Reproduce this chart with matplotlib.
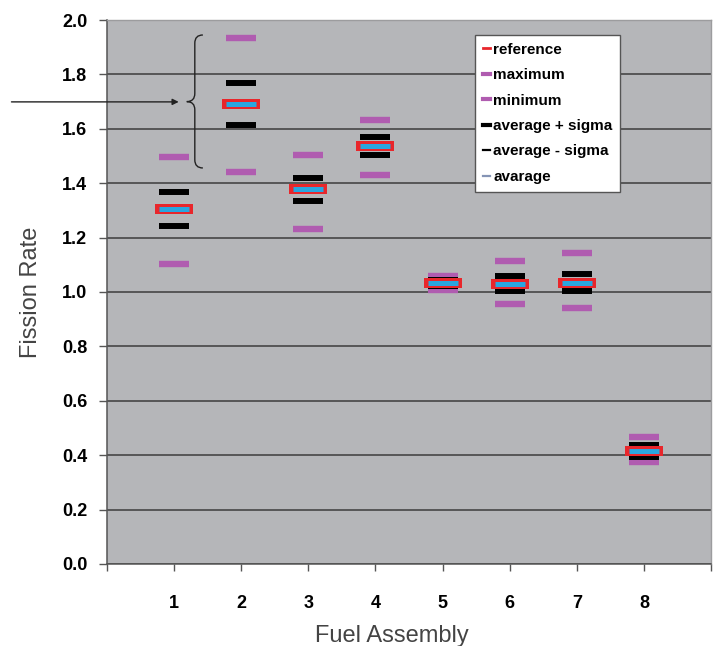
import matplotlib
matplotlib.use("Agg")
import matplotlib.pyplot as plt
import numpy as np
from matplotlib.lines import Line2D
from matplotlib.path import Path
from matplotlib.patches import PathPatch

plt.rcParams['font.family'] = ['Liberation Sans Narrow', 'Liberation Sans', 'DejaVu Sans']

assemblies = [1, 2, 3, 4, 5, 6, 7, 8]
reference = [1.305, 1.691, 1.378, 1.537, 1.033, 1.031, 1.034, 0.417]
maximum = [1.497, 1.933, 1.503, 1.632, 1.059, 1.114, 1.143, 0.467]
minimum = [1.102, 1.440, 1.233, 1.430, 1.007, 0.956, 0.941, 0.374]
avg_plus_sigma = [1.368, 1.768, 1.419, 1.569, 1.044, 1.059, 1.066, 0.436]
avg_minus_sigma = [1.244, 1.614, 1.333, 1.505, 1.022, 1.005, 1.003, 0.394]
average = [1.305, 1.691, 1.378, 1.537, 1.033, 1.031, 1.034, 0.417]

legend_labels = ["reference", "maximum", "minimum", "average + sigma", "average - sigma", "avarage"]

RED = "#e8262b"
PURPLE = "#b05cb0"
BLUE = "#2aa6df"
GRAY_BG = "#b5b6b9"

fig = plt.figure(figsize=(7.17, 6.46), dpi=100)
ax = fig.add_axes([0.149, 0.127, 0.843, 0.842])
ax.set_facecolor(GRAY_BG)

ax.set_xlim(0, 9)
ax.set_ylim(0, 2.0)
ax.set_yticks(np.arange(0, 2.01, 0.2))
ax.set_yticklabels([f"{v:.1f}" for v in np.arange(0, 2.01, 0.2)])
ax.set_xticks(range(0, 10))
ax.set_xticklabels([""] + [str(a) for a in assemblies] + [""])
ax.tick_params(axis='y', length=6, width=1, color="#555555", pad=8, labelsize=13)
ax.tick_params(axis='x', length=5, width=1, color="#555555", pad=17, labelsize=13)
for lab in ax.get_xticklabels() + ax.get_yticklabels():
    lab.set_fontweight('bold')

ax.grid(axis='y', color="#3c3c3c", linewidth=1.1)
ax.set_axisbelow(True)
for side in ['left', 'bottom']:
    ax.spines[side].set_color("#555555")
    ax.spines[side].set_linewidth(1.1)
for side in ['top', 'right']:
    ax.spines[side].set_color("#9c9c9e")
    ax.spines[side].set_linewidth(1.0)

# bars for each statistic, drawn as wide horizontal dash markers
ax.plot(assemblies, maximum, ls='none', marker='_', ms=21.5, mew=4.6, color=PURPLE, zorder=3)
ax.plot(assemblies, minimum, ls='none', marker='_', ms=21.5, mew=4.6, color=PURPLE, zorder=3)
ax.plot(assemblies, avg_plus_sigma, ls='none', marker='_', ms=21, mew=4.3, color='black', zorder=4)
ax.plot(assemblies, avg_minus_sigma, ls='none', marker='_', ms=21, mew=4.3, color='black', zorder=4)
ax.plot(assemblies, reference, ls='none', marker='_', ms=27.5, mew=7.2, color=RED, zorder=5)
ax.plot(assemblies, average, ls='none', marker='_', ms=21.5, mew=3.6, color=BLUE, zorder=6)

ax.set_ylabel("Fission Rate", fontsize=17, color="#444444")
ax.yaxis.set_label_coords(-0.108, 0.5)
ax.set_xlabel("Fuel Assembly", fontsize=17, color="#444444")
ax.xaxis.set_label_coords(0.472, -0.112)

# curly brace around the spread of assembly 2
bx, btop, bmid, bbot = 1.31, 1.945, 1.70, 1.456
w, r = 0.12, 0.03
verts = [
    (bx + w, btop), (bx, btop), (bx, btop - r),
    (bx, bmid + r),
    (bx, bmid), (bx - w, bmid),
    (bx, bmid), (bx, bmid - r),
    (bx, bbot + r),
    (bx, bbot), (bx + w, bbot),
]
codes = [Path.MOVETO, Path.CURVE3, Path.CURVE3, Path.LINETO,
         Path.CURVE3, Path.CURVE3, Path.CURVE3, Path.CURVE3,
         Path.LINETO, Path.CURVE3, Path.CURVE3]
ax.add_patch(PathPatch(Path(verts, codes), fill=False, edgecolor="#222222", lw=1.0, zorder=7))

ax.annotate("", xy=(1.07, 1.699), xytext=(-1.42, 1.699),
            arrowprops=dict(arrowstyle="-|>", color="#222222", lw=1.0,
                            mutation_scale=9, shrinkA=0, shrinkB=0),
            annotation_clip=False, zorder=7)

handles = [
    Line2D([], [], color=RED, lw=2.0),
    Line2D([], [], color=PURPLE, lw=3.0),
    Line2D([], [], color=PURPLE, lw=3.0),
    Line2D([], [], color='black', lw=3.0),
    Line2D([], [], color='black', lw=1.6),
    Line2D([], [], color="#8594b5", lw=1.6),
]
leg = ax.legend(handles, legend_labels, loc='upper left',
                bbox_to_anchor=(475 / 717, 1 - 35 / 646), bbox_transform=fig.transFigure,
                borderaxespad=0, fancybox=False, framealpha=1, edgecolor="#555555",
                handlelength=0.5, handletextpad=0.2, labelspacing=0.75,
                borderpad=0.5, prop={'weight': 'bold', 'size': 11})
leg.get_frame().set_linewidth(1.0)
leg.set_zorder(10)

fig.savefig("out.png", dpi=100)
